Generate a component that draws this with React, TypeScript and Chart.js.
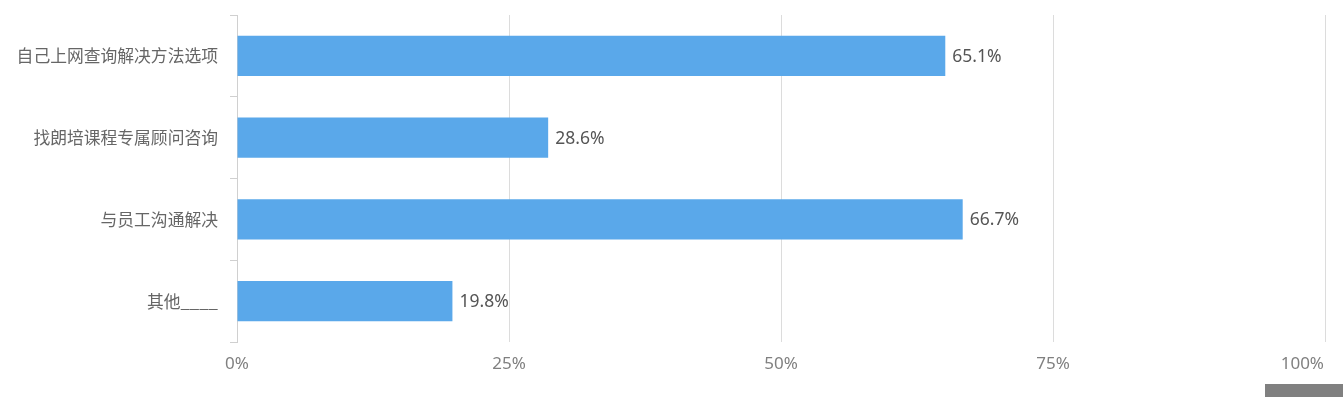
import React, { useEffect, useRef } from "react";
import { Chart, registerables } from "chart.js";

Chart.register(...registerables);

const categories = ["自己上网查询解决方法选项", "找朗培课程专属顾问咨询", "与员工沟通解决", "其他____"];
const values = [65.1, 28.6, 66.7, 19.8];
const xTicks = [0, 25, 50, 75, 100];

const FONT = "'Noto Sans CJK SC', 'Noto Sans', sans-serif";
const NUMFONT = "'Noto Sans', 'Noto Sans CJK SC', sans-serif";

const valueLabels = {
  id: "valueLabels",
  afterDatasetsDraw(chart: any) {
    const ctx = chart.ctx;
    const meta = chart.getDatasetMeta(0);
    ctx.save();
    ctx.font = `17.5px ${NUMFONT}`;
    ctx.fillStyle = "#555";
    ctx.textBaseline = "middle";
    ctx.textAlign = "left";
    meta.data.forEach((bar: any, i: number) => {
      ctx.fillText(values[i].toFixed(1) + "%", bar.x + 7, bar.y + 1);
    });
    ctx.restore();
  },
};

const xLabels = {
  id: "xLabels",
  afterDraw(chart: any) {
    const ctx = chart.ctx;
    const scale = chart.scales.x;
    ctx.save();
    ctx.font = `17px ${NUMFONT}`;
    ctx.fillStyle = "#808080";
    ctx.textBaseline = "middle";
    ctx.textAlign = "left";
    xTicks.forEach((v) => {
      const t = v + "%";
      const w = ctx.measureText(t).width;
      let x = scale.getPixelForValue(v) - w / 2;
      if (x + w > chart.width - 19) x = chart.width - 19 - w;
      ctx.fillText(t, x, 364);
    });
    ctx.restore();
  },
};

export default function App() {
  const ref = useRef<HTMLCanvasElement>(null);
  useEffect(() => {
    document.body.style.margin = "0";
    const chart = new Chart(ref.current!, {
      type: "bar",
      data: {
        labels: categories,
        datasets: [
          {
            data: values,
            backgroundColor: "rgb(90,168,234)",
            barPercentage: 0.49,
            categoryPercentage: 1,
          },
        ],
      },
      options: {
        indexAxis: "y",
        animation: false,
        responsive: false,
        layout: { padding: { top: 15, right: 18, left: 0, bottom: 0 } },
        plugins: { legend: { display: false }, tooltip: { enabled: false } },
        scales: {
          x: {
            min: 0,
            max: 100,
            afterFit: (s: any) => {
              s.height = 55;
              s.paddingRight = 0;
              s.paddingLeft = 0;
            },
            afterBuildTicks: (s: any) => {
              s.ticks = xTicks.map((v) => ({ value: v }));
            },
            ticks: { display: false },
            grid: { color: "#dcdcdc", drawTicks: false, lineWidth: 1 },
            border: { display: false },
          },
          y: {
            afterFit: (s: any) => {
              s.width = 237;
              s.paddingTop = 0;
              s.paddingBottom = 0;
            },
            ticks: {
              color: "#666",
              font: { family: FONT, size: 16.8 },
              padding: 12,
            },
            grid: {
              offset: true,
              drawOnChartArea: false,
              tickLength: 7,
              color: "#d0d0d0",
            },
            border: { color: "#d0d0d0" },
          },
        },
      },
      plugins: [valueLabels, xLabels],
    });
    return () => chart.destroy();
  }, []);
  return (
    <div style={{ position: "relative", width: 1343, height: 397, background: "#fff" }}>
      <canvas ref={ref} width={1343} height={397} />
      <div
        style={{
          position: "absolute",
          left: 1265,
          top: 384,
          width: 78,
          height: 13,
          background: "#808080",
        }}
      />
    </div>
  );
}
